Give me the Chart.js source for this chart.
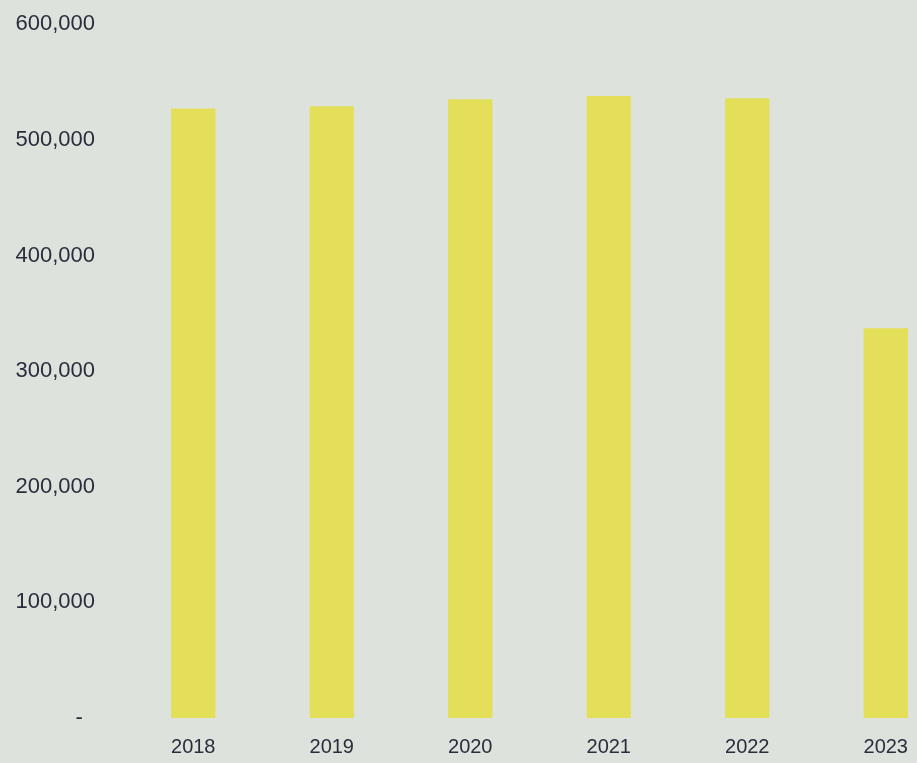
<!DOCTYPE html>
<html>
<head>
<meta charset="utf-8">
<script src="https://cdn.jsdelivr.net/npm/chart.js@4"></script>
<style>
  html, body { margin: 0; padding: 0; overflow: hidden; background: #dde2dc; }
  #wrap { width: 955px; height: 798px; position: relative; margin-top: -18px; }
</style>
</head>
<body>
<div id="wrap"><canvas id="grafico"></canvas></div>
<script>
// Datos
const anios = ['2018', '2019', '2020', '2021', '2022', '2023'];
const totales = [527000, 529000, 535000, 538000, 536000, 337000];
const ejeMax = 600000;
const ejePaso = 100000;

document.addEventListener('DOMContentLoaded', function() {
    const ctx = document.getElementById('grafico').getContext('2d');
    const fuenteY = { family: 'Liberation Sans, Arial, sans-serif', size: 22 };
    const fuenteX = { family: 'Liberation Sans, Arial, sans-serif', size: 20 };

    new Chart(ctx, {
        type: 'bar',
        data: {
            labels: anios,
            datasets: [{
                data: totales,
                backgroundColor: '#e4df58',
                borderWidth: 0,
                barPercentage: 0.32,
                categoryPercentage: 1
            }]
        },
        options: {
            responsive: true,
            maintainAspectRatio: false,
            animation: false,
            layout: { padding: { top: 11, bottom: 4, left: 0, right: 0 } },
            plugins: {
                legend: { display: false },
                tooltip: { enabled: false }
            },
            scales: {
                x: {
                    grid: { display: false, drawTicks: false },
                    border: { display: false },
                    ticks: { color: '#2b2d3c', font: fuenteX, padding: 17 }
                },
                y: {
                    min: 0,
                    max: ejeMax,
                    grid: { display: false, drawTicks: false },
                    border: { display: false },
                    afterFit: function(scale) { scale.width = 124; },
                    ticks: {
                        stepSize: ejePaso,
                        color: '#2b2d3c',
                        font: fuenteY,
                        padding: 29,
                        callback: function(value) {
                            return value === 0 ? '-  ' : value.toLocaleString('en-US');
                        }
                    }
                }
            }
        }
    });
});
</script>
</body>
</html>
